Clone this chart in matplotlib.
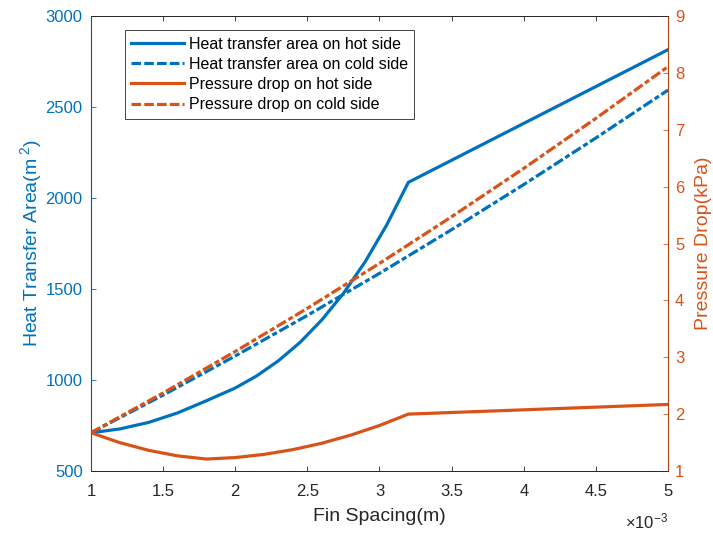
import matplotlib
matplotlib.use("Agg")
import matplotlib.pyplot as plt
from matplotlib.lines import Line2D

plt.rcParams['font.family'] = ['Liberation Sans', 'DejaVu Sans']
plt.rcParams['mathtext.fontset'] = 'custom'
plt.rcParams['mathtext.rm'] = 'Liberation Sans'
plt.rcParams['mathtext.it'] = 'Liberation Sans:italic'

# fin spacing in units of 1e-3 m
x_hot_area = [1.0, 1.2, 1.4, 1.6, 1.8, 2.0, 2.15, 2.3, 2.45, 2.6, 2.75, 2.9, 3.05, 3.2, 5.0]
hot_area = [710, 731, 767, 819, 886, 956, 1023, 1106, 1207, 1330, 1476, 1649, 1852, 2086, 2815]

x_cold_area = [1.0, 1.5, 2.0, 2.5, 3.0, 3.5, 4.0, 4.5, 5.0]
cold_area = [710, 917, 1132, 1355, 1586, 1826, 2074, 2330, 2593]

x_hot_dp = [1.0, 1.2, 1.4, 1.6, 1.8, 2.0, 2.2, 2.4, 2.6, 2.8, 3.0, 3.2, 5.0]
hot_dp = [1.673, 1.498, 1.363, 1.266, 1.21, 1.236, 1.292, 1.376, 1.488, 1.63, 1.80, 2.0, 2.17]

x_cold_dp = [1.0, 1.5, 2.0, 2.5, 3.0, 3.5, 4.0, 4.5, 5.0]
cold_dp = [1.673, 2.372, 3.101, 3.861, 4.65, 5.471, 6.321, 7.201, 8.11]

blue = '#0072BD'
orange = '#D95319'
dark = '#262626'
lw = 2.3
dash = (3.3, 0.9, 1.6, 0.9)

fig = plt.figure(figsize=(7.13, 5.34), dpi=100)
ax = fig.add_axes([0.1276, 0.118, 0.8093, 0.852])
ax2 = ax.twinx()

ax.plot(x_hot_area, hot_area, color=blue, lw=lw)
ax.plot(x_cold_area, cold_area, color=blue, lw=lw, dashes=dash)
ax2.plot(x_hot_dp, hot_dp, color=orange, lw=lw)
ax2.plot(x_cold_dp, cold_dp, color=orange, lw=lw, dashes=dash)

ax.set_xlim(1, 5)
ax.set_ylim(500, 3000)
ax2.set_ylim(1, 9)
ax.set_xticks([1, 1.5, 2, 2.5, 3, 3.5, 4, 4.5, 5])
ax.set_xticklabels(['1', '1.5', '2', '2.5', '3', '3.5', '4', '4.5', '5'])
ax.set_yticks([500, 1000, 1500, 2000, 2500, 3000])
ax2.set_yticks(range(1, 10))

ax.tick_params(axis='x', direction='in', length=3.6, width=0.6, colors=dark,
               labelsize=12, top=True, pad=9.5)
ax.tick_params(axis='y', direction='in', length=3.6, width=0.6, colors=blue,
               labelsize=12, pad=6)
ax2.tick_params(axis='y', direction='in', length=3.6, width=0.6, colors=orange,
                labelsize=12, pad=5)

for a in (ax, ax2):
    a.spines['top'].set_color(dark)
    a.spines['bottom'].set_color(dark)
    a.spines['top'].set_linewidth(0.6)
    a.spines['bottom'].set_linewidth(0.6)
ax2.spines['left'].set_color(blue)
ax2.spines['right'].set_color(orange)
ax2.spines['left'].set_linewidth(0.6)
ax2.spines['right'].set_linewidth(0.6)

ax.set_xlabel('Fin Spacing(m)', fontsize=14, color=dark, labelpad=6)
ax.set_ylabel('Heat Transfer Area(m$^{\\ 2}$)', fontsize=14, color=blue, labelpad=1)
ax2.set_ylabel('Pressure Drop(kPa)', fontsize=14, color=orange, labelpad=8)
ax.text(1.0, -0.09, '$\\times$10$^{-3}$', transform=ax.transAxes, ha='right',
        va='top', fontsize=12, color=dark)

handles = [
    Line2D([], [], color=blue, lw=lw),
    Line2D([], [], color=blue, lw=lw, dashes=(3.0, 1.0)),
    Line2D([], [], color=orange, lw=lw),
    Line2D([], [], color=orange, lw=lw, dashes=(3.0, 1.0)),
]
labels = ['Heat transfer area on hot side', 'Heat transfer area on cold side',
          'Pressure drop on hot side', 'Pressure drop on cold side']
leg = ax2.legend(handles, labels, loc='upper left', bbox_to_anchor=(0.059, 0.969),
                 borderaxespad=0, fontsize=11.5, handlelength=3.3, handletextpad=0.3,
                 labelspacing=0.33, fancybox=False, framealpha=1, borderpad=0.4)
leg.get_frame().set_edgecolor(dark)
leg.get_frame().set_linewidth(0.6)

fig.savefig('out.png', dpi=100)
